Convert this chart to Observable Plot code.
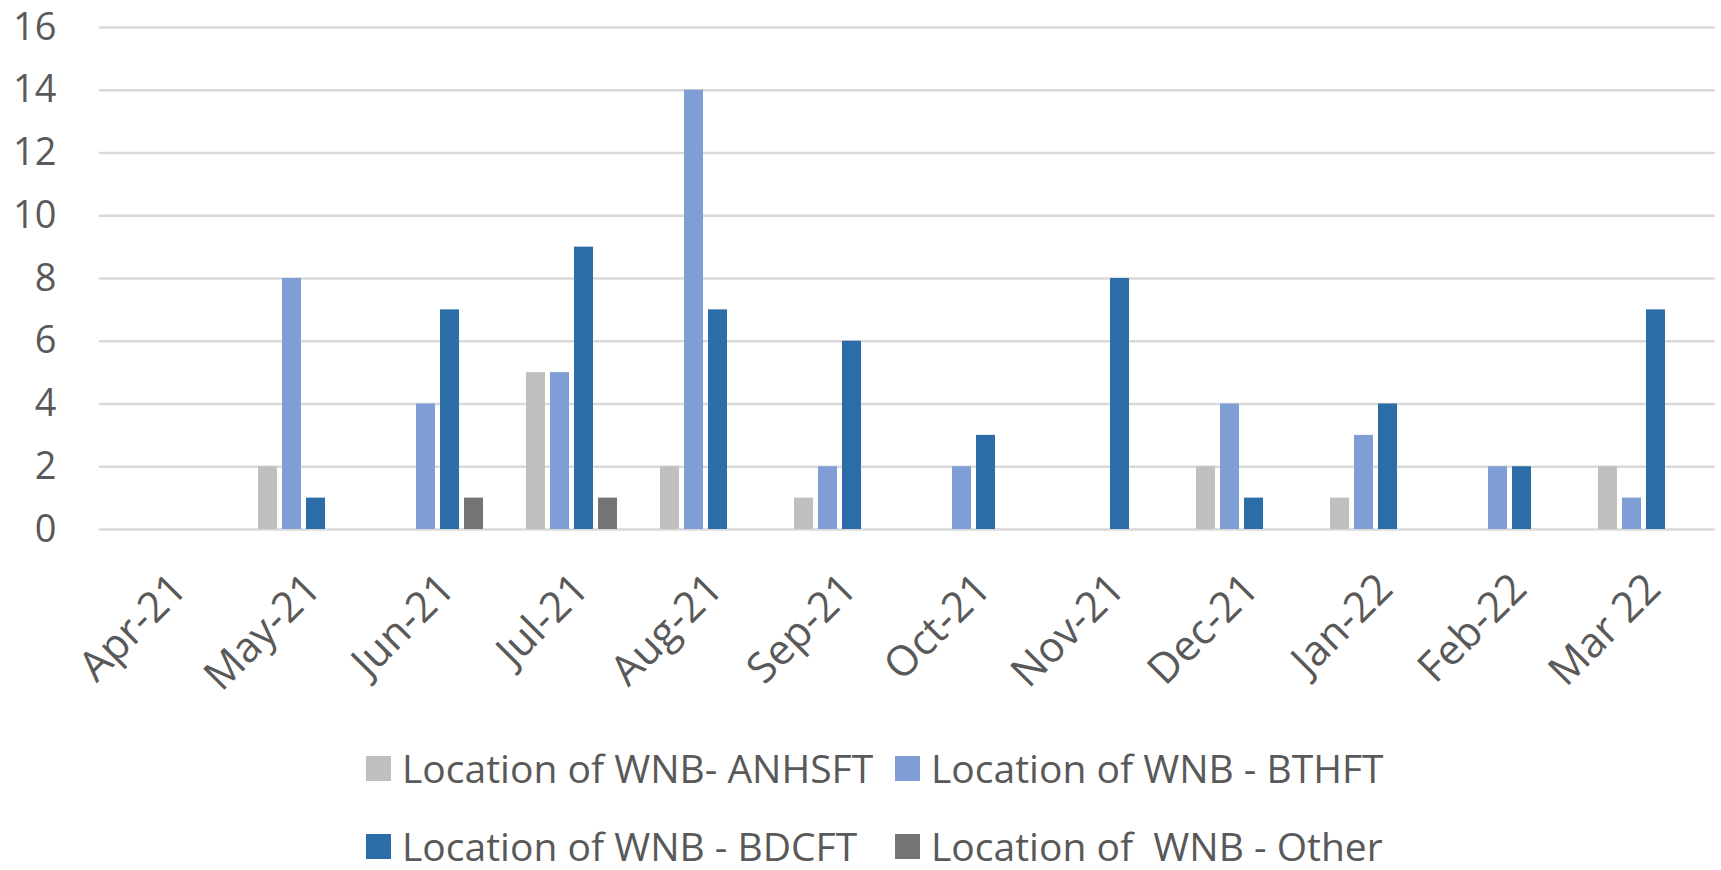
<!DOCTYPE html>
<html><head><meta charset="utf-8">
<script src="https://cdn.jsdelivr.net/npm/d3@7"></script>
<script src="https://cdn.jsdelivr.net/npm/@observablehq/plot@0.6"></script>
<style>
body{margin:0;background:#fff;font-family:"Open Sans",sans-serif;position:relative;width:1721px;height:870px;overflow:hidden;}
#chart{position:relative;width:1721px;height:720px;}
#chart svg{position:absolute;left:0;top:0;}
.item{position:absolute;display:flex;align-items:center;font-size:39px;line-height:36px;color:#595959;white-space:pre;}
.sw{width:25px;height:25px;margin-right:11px;flex:none;}
</style></head><body><div id="chart"></div>
<script>
const months = ["Apr-21","May-21","Jun-21","Jul-21","Aug-21","Sep-21","Oct-21","Nov-21","Dec-21","Jan-22","Feb-22","Mar 22"];
const seriesNames = ["Location of WNB- ANHSFT","Location of WNB - BTHFT","Location of WNB - BDCFT","Location of  WNB - Other"];
const anhsft = [0,2,0,5,2,1,0,0,2,1,0,2];
const bthft  = [0,8,4,5,14,2,2,0,4,3,2,1];
const bdcft  = [0,1,7,9,7,6,3,8,1,4,2,7];
const other  = [0,0,1,1,0,0,0,0,0,0,0,0];
const seriesColors = ["#BFBFBF","#7F9ED6","#2C6DA8","#747474"];
const yTicks = [0,2,4,6,8,10,12,14,16];

const seriesValues = [anhsft,bthft,bdcft,other];
const data = [];
months.forEach((m,i)=>seriesNames.forEach((s,j)=>{
  const v = seriesValues[j][i];
  if (v > 0) data.push({month:m, series:s, value:v});
}));

const common = {
  width:1721, height:720,
  marginTop:27, marginLeft:99, marginRight:6, marginBottom:191,
  style:{fontFamily:"Open Sans", fontSize:"38px", color:"#595959", background:"transparent", overflow:"visible"}
};

// Background layer: gridlines, y labels, month labels
const base = Plot.plot({
  ...common,
  x:{type:"band", domain:months, padding:0},
  y:{domain:[0,16], ticks:yTicks, label:null, tickSize:0, tickPadding:43},
  marks:[
    Plot.ruleY(yTicks,{y:d=>d, stroke:"#d9d9d9", strokeWidth:2.5}),
    Plot.axisX({label:null, tickRotate:-45, tickSize:0, tickPadding:52, fontSize:42, dx:9})
  ]
});

// Foreground layer: grouped bars
const bars = Plot.plot({
  ...common,
  fx:{domain:months, paddingInner:0.27, paddingOuter:0.135, axis:null, label:null},
  x:{domain:seriesNames, axis:null, paddingInner:0.2, paddingOuter:0.1},
  y:{domain:[0,16], axis:null},
  color:{domain:seriesNames, range:seriesColors},
  marks:[
    Plot.barY(data,{fx:"month", x:"series", y:"value", fill:"series"})
  ]
});
const chartDiv = document.getElementById("chart");
chartDiv.appendChild(base);
chartDiv.appendChild(bars);

const legendPos = [[366,750],[895,750],[366,828],[895,828]];
seriesNames.forEach((s,i)=>{
  const d = document.createElement("div");
  d.className = "item";
  d.style.left = legendPos[i][0]+"px";
  d.style.top = legendPos[i][1]+"px";
  const sw = document.createElement("span");
  sw.className = "sw"; sw.style.background = seriesColors[i];
  const t = document.createElement("span");
  t.textContent = s;
  d.appendChild(sw); d.appendChild(t);
  document.body.appendChild(d);
});
</script></body></html>
